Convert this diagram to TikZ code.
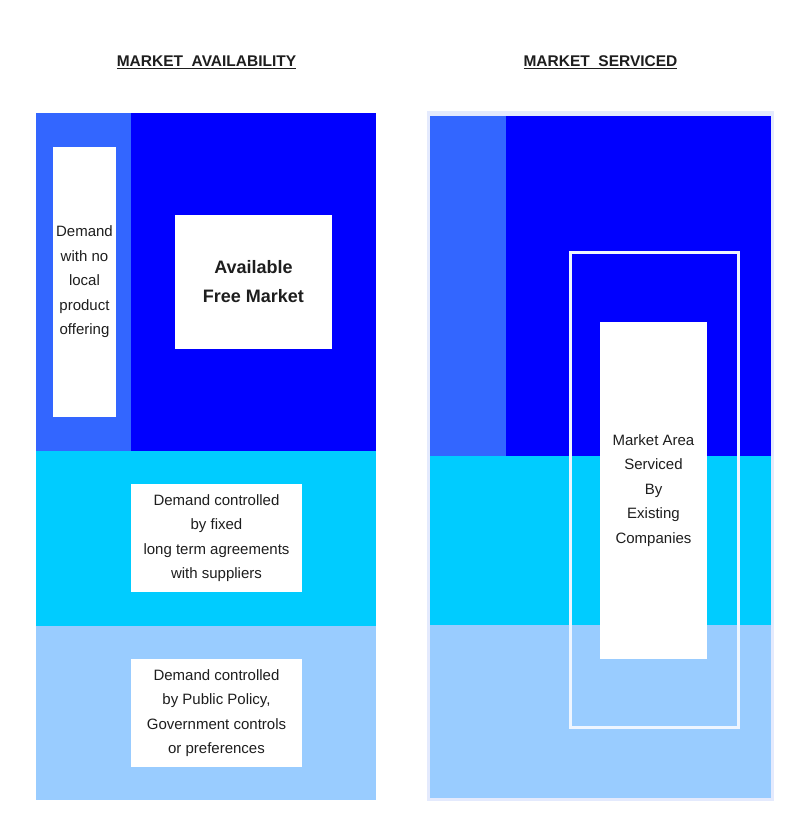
\documentclass[tikz,border=0pt]{standalone}
\usepackage{fontspec}
\setmainfont{Liberation Sans}
\usepackage{xcolor}
\usetikzlibrary{positioning}

\definecolor{deepblue}{HTML}{0000FF}
\definecolor{stripblue}{HTML}{3366FF}
\definecolor{bandcyan}{HTML}{00CCFF}
\definecolor{bandpale}{HTML}{99CCFF}
\definecolor{rimpale}{HTML}{E4EAFD}
\definecolor{outlinepale}{HTML}{EEF5FF}
\definecolor{inkgray}{HTML}{1E1E1E}

\tikzset{
    textbox/.style={fill=white, text=inkgray, align=center, inner sep=0pt,
        font=\fontsize{15}{24.5}\selectfont},
    headtext/.style={text=inkgray, inner sep=0pt,
        font=\fontsize{15.5}{18}\selectfont\bfseries}
}

\begin{document}
\begin{tikzpicture}[x=1pt,y=-1pt]
        \useasboundingbox (0,0) rectangle (788,839);
        \fill[white] (0,0) rectangle (788,839);
        % Titles
        \node[headtext] (availhead) at (206.5,62) {\underline{MARKET\ \ AVAILABILITY}};
        \node[headtext] (servhead) at (600.5,62) {\underline{MARKET\ \ SERVICED}};
        % Market availability bands
        \fill[deepblue] (36,113) rectangle (376,451);
        \fill[stripblue] (36,113) rectangle (131,451);
        \fill[bandcyan] (36,451) rectangle (376,626);
        \fill[bandpale] (36,626) rectangle (376,800);
        % Market availability boxes
        \node[textbox, minimum width=63, minimum height=270] (nolocal) at (84.5,282)
            {Demand\\with no\\local\\product\\offering};
        \node[textbox, minimum width=157, minimum height=134,
            font=\fontsize{18}{29}\selectfont\bfseries] (freemkt) at (253.5,282)
            {Available\\Free Market};
        \node[textbox, minimum width=171, minimum height=108] (fixed) at (216.5,538)
            {Demand controlled\\by fixed\\long term agreements\\with suppliers};
        \node[textbox, minimum width=171, minimum height=108] (policy) at (216.5,713)
            {Demand controlled\\by Public Policy,\\Government controls\\or preferences};
        % Market serviced bands
        \fill[rimpale] (427,111) rectangle (774,801);
        \fill[deepblue] (430,116) rectangle (771,456);
        \fill[stripblue] (430,116) rectangle (506,456);
        \fill[bandcyan] (430,456) rectangle (771,625);
        \fill[bandpale] (430,625) rectangle (771,798);
        % Serviced area
        \draw[outlinepale, line width=3] (570,252) rectangle (738,727);
        \node[textbox, minimum width=107, minimum height=337] (serviced) at (653.5,490.5)
            {Market Area\\Serviced\\By\\Existing\\Companies};
\end{tikzpicture}
\end{document}
